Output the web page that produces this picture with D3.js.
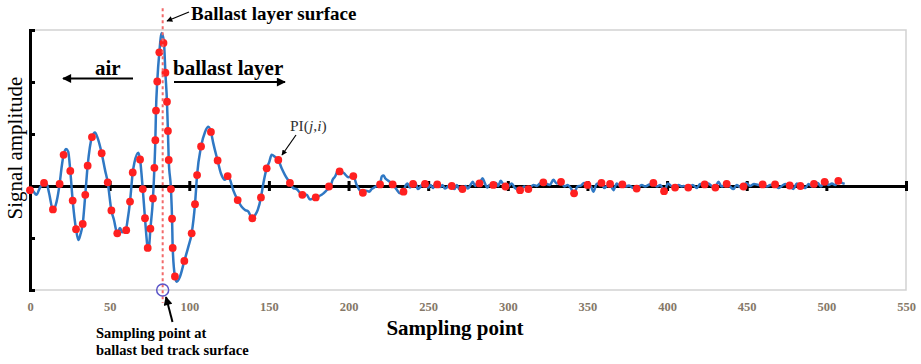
<!DOCTYPE html>
<html>
<head>
<meta charset="utf-8">
<script src="https://cdn.jsdelivr.net/npm/d3@7/dist/d3.min.js"></script>
<style>
  body { margin: 0; background: #fff; }
  svg { display: block; }
  text { font-family: "Liberation Serif", "Times New Roman", serif; }
</style>
</head>
<body>
<svg id="chart" width="921" height="364"></svg>
<script>
// tick values
const xTicks = [0, 50, 100, 150, 200, 250, 300, 350, 400, 450, 500, 550];
const yTicks = [-2, -1, 0, 1, 2, 3];

// sample at the ballast layer surface (red dashed line)
const surfaceSample = 83.3;

// blue trace: [sampling point, amplitude]
const wave = [
  [0, -0.05], [2, -0.1], [4, -0.17], [6, -0.05], [8.8, 0.06], [10.5, 0.04], [12, -0.14],
  [14.4, -0.46], [16.7, -0.3], [18.6, 0.04], [19.9, 0.37], [21.1, 0.6], [22.6, 0.71],
  [24, 0.66], [25.3, 0.29], [26.8, -0.28], [28.9, -0.83], [30.4, -1.04], [31.6, -0.94],
  [33.1, -0.73], [34.7, -0.17], [36.2, 0.39], [38.9, 0.94], [40.8, 1.03], [42.5, 0.92],
  [45, 0.63], [47.1, 0.31], [48.8, 0.07], [51.1, -0.47], [52.7, -0.65], [54.8, -0.91],
  [56.5, -0.81], [58, -0.89], [60.1, -0.85], [61.3, -0.65], [62.8, -0.3], [64.5, 0.26],
  [65.5, 0.44], [68, 0.64], [69.1, 0.51], [70.8, -0.06], [72.2, -0.62], [73.9, -1.19],
  [74.5, -1.23], [75.6, -0.82], [77.2, -0.24], [78.1, 0.35], [78.7, 0.88], [79.1, 1.45],
  [79.9, 2.01], [81.2, 2.57], [82.7, 2.94], [84.1, 2.76], [85, 2.18], [86, 1.62],
  [86.6, 1.06], [87.1, 0.5], [88.5, -0.06], [89.2, -0.63], [89.6, -1.19], [91, -1.74],
  [92.1, -1.84], [94.2, -1.74], [96.9, -1.44], [99.4, -1.17], [101.5, -0.91], [103.6, -0.35],
  [104.9, 0.21], [107.4, 0.76], [109.9, 1.04], [112, 1.14], [113.6, 1.04], [115.1, 0.82],
  [117.8, 0.49], [119.9, 0.24], [122.4, 0.12], [124.1, 0.19], [125.6, 0.12], [127.6, -0.08],
  [130.4, -0.27], [132.9, -0.4], [135, -0.46], [137, -0.49], [139.6, -0.62], [141.3, -0.56],
  [143, -0.46], [145, -0.22], [146.5, 0.05], [148.6, 0.34], [150.3, 0.47], [151.7, 0.6],
  [153.8, 0.56], [155.9, 0.5], [158, 0.34], [160.1, 0.21], [163.2, 0.06], [165.3, -0.04],
  [167.4, -0.06], [171, -0.17], [173.7, -0.17], [175.8, -0.26], [179.4, -0.22], [183.1, -0.17],
  [186.3, -0.08], [188.8, 0], [190, 0.12], [191.5, 0.18], [193.6, 0.31], [195, 0.28],
  [197, 0.25], [199.9, 0.17], [203, 0.19], [205.1, 0.02], [207, -0.08], [208.9, -0.13],
  [211, -0.09], [213, -0.11], [214.5, -0.06], [216.6, -0.02], [218, 0.01], [219.8, 0.03],
  [220.8, 0.18], [222, 0.2], [223, 0.15], [225, 0.1], [227.7, 0.03], [230, -0.06],
  [232.3, -0.14], [234.4, -0.11], [236, 0.02], [237, 0.05], [238.5, -0.03], [240.3, 0.03],
  [242, 0.06], [243.5, -0.06], [245, -0.02], [246.5, 0.04], [248, 0.04], [250, -0.03],
  [251.5, 0.02], [253, -0.04], [254.5, 0.05], [255.7, 0.03], [257.5, -0.02], [259, 0.02],
  [260.5, -0.05], [262, -0.02], [263.5, 0.02], [264.8, 0], [266.5, -0.06], [268, 0.02],
  [269.5, -0.06], [271.7, -0.06], [273.5, 0], [275, -0.05], [276.5, 0.02], [278, 0.08],
  [279.5, 0], [281, 0.06], [282.1, 0.05], [284.2, 0.15], [285.5, 0.06], [287, -0.03],
  [288.5, 0.02], [290.9, 0.02], [292.5, 0.06], [294, 0], [295.5, 0.1], [297, 0.04],
  [298.7, -0.01], [300.3, -0.01], [302.4, 0.05], [304.5, -0.04], [307.7, -0.08],
  [310.4, -0.01], [312.9, -0.06], [316, 0.02], [318.1, 0], [320.2, 0.05], [322.3, 0.07],
  [324.4, 0.04], [326.5, 0.02], [328.6, 0.12], [330.7, 0.05], [333.4, 0.08], [335.5, -0.01],
  [337.6, 0.02], [339.5, -0.04], [341.6, -0.14], [343.7, -0.01], [346, 0.01], [347.8, 0.06],
  [349.9, 0.02], [352.2, -0.01], [353.7, -0.11], [355.8, 0.04], [358.7, 0.06], [360.6, -0.04],
  [362.1, 0], [364.2, 0.03], [366.3, -0.08], [368.4, 0.05], [370.5, 0], [371.9, 0.03],
  [374, -0.01], [376.1, 0.01], [378.9, -0.04], [381, -0.04], [384.1, 0.02], [386.2, -0.01],
  [388.3, 0.02], [391.4, 0.06], [393.6, -0.01], [395.7, 0.02], [398.2, -0.1], [400.5, 0.05],
  [402.6, 0], [405.1, -0.03], [407.2, 0.02], [409.3, -0.01], [410.2, 0], [413.3, -0.03],
  [416.1, 0.02], [418.6, -0.04], [420.7, 0.04], [423.4, 0.03], [425.9, 0.05], [428, 0],
  [430.1, -0.03], [432.2, 0.08], [434.3, -0.01], [437.4, 0.04], [439.5, -0.01], [441.6, -0.06],
  [443.7, 0.02], [445.8, -0.02], [448, -0.01], [449.6, 0.06], [452.1, 0], [454.6, 0.04],
  [457.4, 0.02], [460.1, 0.03], [462.6, -0.01], [464.7, 0.02], [467.8, 0.03], [469.9, -0.04],
  [472, 0], [474.1, 0.04], [477.2, 0.01], [479.3, -0.06], [481.4, 0.05], [483.9, 0],
  [486.7, -0.04], [488.8, 0.04], [490.9, -0.01], [492.4, 0.04], [494.5, 0.06], [496.6, -0.01],
  [498.9, 0.08], [501.4, 0.02], [503.5, 0.05], [505.6, 0.02], [507.7, 0.1], [509.8, 0.06],
  [511.5, 0.04]
];

// red markers PI(j,i): [sampling point, amplitude]
const dots = [
  [0, -0.08], [8.8, 0.06], [14.4, -0.45], [18.6, 0.04], [21.1, 0.6], [25.3, 0.29],
  [26.8, -0.28], [28.9, -0.83], [33.1, -0.73], [34.7, -0.17], [36.2, 0.39], [38.9, 0.94],
  [45, 0.63], [48.8, 0.07], [51.1, -0.47], [54.8, -0.91], [60.4, -0.85], [62.8, -0.3],
  [64.5, 0.26], [69.1, 0.51], [70.8, -0.06], [72.2, -0.62], [73.9, -1.19], [75.6, -0.82],
  [77.2, -0.24], [78.1, 0.35], [78.7, 0.88], [79.1, 1.45], [79.9, 2.01], [81.2, 2.57],
  [83.8, 2.75], [85, 2.18], [86, 1.62], [86.6, 1.06], [87.1, 0.5], [88.5, -0.06],
  [89.2, -0.63], [89.6, -1.19], [91, -1.74], [96.9, -1.44], [101.5, -0.91], [103.6, -0.35],
  [104.9, 0.21], [107.4, 0.76], [113.6, 1.04], [117.8, 0.49], [124.1, 0.19], [130.4, -0.27],
  [139.6, -0.62], [145, -0.22], [148.6, 0.34], [155.9, 0.5], [163.2, 0.06], [171, -0.17],
  [179.4, -0.22], [187.7, -0.01], [194.4, 0.28], [203, 0.19], [209, -0.13], [219.8, 0.03],
  [227.7, 0.03], [234.5, -0.11], [240.5, 0.04], [248, 0.04], [255.7, 0.03], [264.8, 0],
  [271.5, -0.06], [282.2, 0.05], [290.9, 0.02], [298.5, -0.01], [307.7, -0.08], [312.9, -0.06],
  [322.3, 0.07], [333.4, 0.08], [341.6, -0.14], [350, 0.02], [358.8, 0.06], [364.2, 0.04],
  [371.9, 0.03], [380.9, -0.05], [391.4, 0.06], [398.1, -0.1], [405, -0.03], [413.3, -0.03],
  [423.6, 0.03], [430.3, -0.03], [437.4, 0.04], [448, -0.01], [460, 0.03], [467.8, 0.03],
  [477, 0.01], [483.7, 0], [492.2, 0.04], [498.9, 0.08], [507.5, 0.1]
];

const svg = d3.select("#chart");

const x = d3.scaleLinear().domain([0, 550]).range([30, 906]);
const y = d3.scaleLinear().domain([-2, 3]).range([290, 30]);

// arrowhead
svg.append("defs").append("marker")
  .attr("id", "arrow")
  .attr("viewBox", "0 0 10 10")
  .attr("refX", 9).attr("refY", 5)
  .attr("markerWidth", 5).attr("markerHeight", 4.5)
  .attr("orient", "auto-start-reverse")
  .append("path")
  .attr("d", "M0,0 L10,5 L0,10 z")
  .attr("fill", "#000");

// light frame round the plot area
svg.append("rect")
  .attr("x", x(0)).attr("y", y(3))
  .attr("width", x(550) - x(0))
  .attr("height", y(-2) - y(3))
  .attr("fill", "none")
  .attr("stroke", "#d2d2d2")
  .attr("stroke-width", 1.5);

// y axis, ticks pointing inwards, no labels
const yAxis = svg.append("g")
  .attr("transform", `translate(${x(0)},0)`)
  .call(d3.axisLeft(y).tickValues(yTicks).tickSize(-5).tickFormat(""));
yAxis.select(".domain").attr("stroke-width", 3);
yAxis.selectAll(".tick line").attr("stroke-width", 3);

// tick labels along the bottom
const xLabels = svg.append("g")
  .attr("transform", `translate(0,${y(-2)})`)
  .call(d3.axisBottom(x).tickValues(xTicks).tickSize(0).tickPadding(12));
xLabels.select(".domain").remove();
xLabels.selectAll("text")
  .attr("font-family", "Liberation Serif, serif")
  .attr("font-size", 12.5)
  .attr("font-weight", "bold")
  .attr("fill", "#857868");

// zero line with cross ticks
const zeroAxis = svg.append("g")
  .attr("transform", `translate(0,${y(0)})`)
  .call(d3.axisBottom(x).tickValues(xTicks).tickSizeOuter(0).tickFormat(""));
zeroAxis.select(".domain").attr("stroke-width", 3);
zeroAxis.selectAll(".tick line")
  .attr("y1", -5).attr("y2", 5)
  .attr("stroke-width", 3);

// blue trace
const line = d3.line()
  .x(d => x(d[0]))
  .y(d => y(d[1]))
  .curve(d3.curveMonotoneX);

svg.append("path")
  .datum(wave)
  .attr("fill", "none")
  .attr("stroke", "#2f78c4")
  .attr("stroke-width", 2.5)
  .attr("stroke-linejoin", "round")
  .attr("d", line);

// red markers
svg.append("g").selectAll("circle")
  .data(dots)
  .join("circle")
  .attr("cx", d => x(d[0]))
  .attr("cy", d => y(d[1]))
  .attr("r", 3.9)
  .attr("fill", "#ff2020");

// ballast layer surface
svg.append("line")
  .attr("x1", x(surfaceSample)).attr("x2", x(surfaceSample))
  .attr("y1", y(3.42)).attr("y2", y(-2.25))
  .attr("stroke", "#f26a6a")
  .attr("stroke-width", 2)
  .attr("stroke-dasharray", "3,3");

svg.append("circle")
  .attr("cx", x(surfaceSample)).attr("cy", y(-2))
  .attr("r", 6)
  .attr("fill", "none")
  .attr("stroke", "#5b55c8")
  .attr("stroke-width", 1.5);

// annotation text and arrows
function arrow(x1, y1, x2, y2, w) {
  svg.append("line")
    .attr("x1", x1).attr("y1", y1)
    .attr("x2", x2).attr("y2", y2)
    .attr("stroke", "#000")
    .attr("stroke-width", w)
    .attr("marker-end", "url(#arrow)");
}

svg.append("text")
  .attr("x", 191).attr("y", 20)
  .attr("font-size", 19).attr("font-weight", "bold")
  .text("Ballast layer surface");
arrow(189, 12, 167, 21, 1.3);

svg.append("text")
  .attr("x", 95).attr("y", 75)
  .attr("font-size", 21).attr("font-weight", "bold")
  .text("air");
arrow(133, 78.5, 63, 78.5, 2);

svg.append("text")
  .attr("x", 173).attr("y", 75)
  .attr("font-size", 21).attr("font-weight", "bold")
  .text("ballast layer");
arrow(174, 82, 285, 82, 2);

const pi = svg.append("text")
  .attr("x", 290).attr("y", 131)
  .attr("font-size", 15.5)
  .attr("fill", "#333");
pi.append("tspan").text("PI(");
pi.append("tspan").attr("font-style", "italic").text("j");
pi.append("tspan").text(",");
pi.append("tspan").attr("font-style", "italic").text("i");
pi.append("tspan").text(")");
arrow(296, 135, 282, 155, 1.2);

const note = svg.append("text")
  .attr("font-size", 14.5).attr("font-weight", "bold");
note.append("tspan").attr("x", 96).attr("y", 338).text("Sampling point at");
note.append("tspan").attr("x", 96).attr("y", 355).text("ballast bed track surface");
arrow(172.5, 322, 166, 297, 2);

// axis titles
svg.append("text")
  .attr("x", 455).attr("y", 335)
  .attr("text-anchor", "middle")
  .attr("font-size", 21).attr("font-weight", "bold")
  .text("Sampling point");

svg.append("text")
  .attr("transform", "translate(22,148) rotate(-90)")
  .attr("text-anchor", "middle")
  .attr("font-size", 21)
  .text("Signal amplitude");
</script>
</body>
</html>
